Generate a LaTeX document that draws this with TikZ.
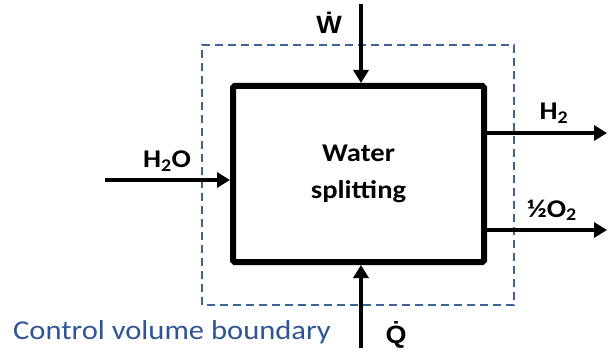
\documentclass[tikz,border=0pt]{standalone}
\usepackage{fontspec}
\setmainfont{Carlito}[FakeStretch=1.12]
\newfontfamily\dotfont{Liberation Sans}[FakeStretch=1.08]
\usepackage{xcolor}
\usepackage{tikz}
\usetikzlibrary{arrows.meta,calc}
\definecolor{cvblue}{HTML}{2F5597}
\definecolor{cvdash}{HTML}{3D6496}

\begin{document}
\begin{tikzpicture}[x=1pt,y=1pt,
    flow/.style={line width=3.5pt,-{Triangle[length=13pt,width=15pt]}},
    lbl/.style={anchor=base,inner sep=0pt,font=\fontsize{25.5}{28}\selectfont\bfseries},
    dotlbl/.style={anchor=base,inner sep=0pt,font=\fontsize{25}{28}\selectfont\dotfont\bfseries}]
    \useasboundingbox (0,0) rectangle (608,354);
    % control volume and process box
    \draw[cvdash,line width=1.5pt,dash pattern=on 8pt off 5pt] (202,49) rectangle (514,309);
    \node[draw,line width=6pt,rounded corners=1.5pt,minimum width=251pt,minimum height=176pt,
          align=center,font=\fontsize{25.5}{37}\selectfont\bfseries] (box) at (358.5,180) {Water\\splitting};
    \coordinate (win) at (361,350);
    \coordinate (qin) at (361,6);
    \coordinate (h2oin) at (105,174);
    \coordinate (h2out) at (607,221);
    \coordinate (o2out) at (607,124);
    % streams
    \draw[flow] (win) -- (win |- box.north);
    \draw[flow] (qin) -- (qin |- box.south);
    \draw[flow] (h2oin) -- (h2oin -| box.west);
    \draw[flow] (h2out -| box.east) -- (h2out);
    \draw[flow] (o2out -| box.east) -- (o2out);
    \node[dotlbl] (wdot) at (329,320) {\.W};
    \node[dotlbl] (qdot) at (396,11) {\.Q};
    \node[lbl] (h2o) at (167,186) {H\textsubscript{2}O};
    \node[lbl] (h2) at (554,234) {H\textsubscript{2}};
    \node[lbl] (o2) at (552,137) {½O\textsubscript{2}};
    \node[anchor=base west,inner sep=0pt,text=cvblue,font=\fontsize{27.3}{30}\selectfont] (cvtext) at (13,15) {Control volume boundary};
\end{tikzpicture}
\end{document}
